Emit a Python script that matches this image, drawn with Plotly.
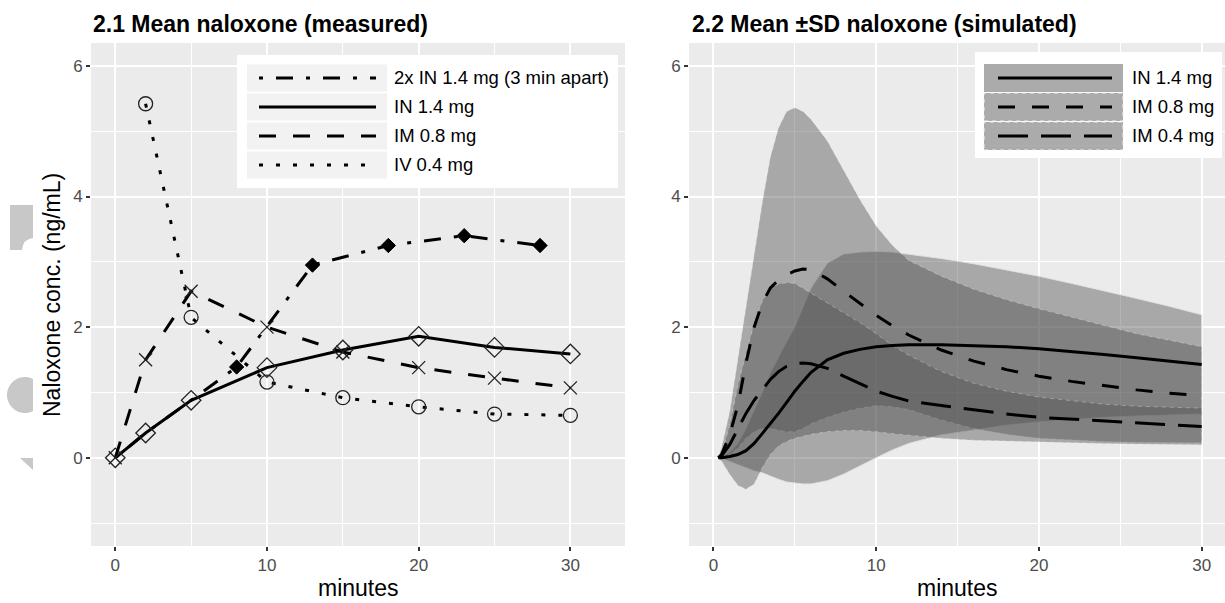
import math
import plotly.graph_objects as go

# ---------------- data: measured (left panel) ----------------
t_2xin = [0, 2, 5, 8, 13, 18, 23, 28]
c_2xin = [0, 0.38, 0.88, 1.39, 2.95, 3.25, 3.40, 3.25]
m_2xin = [0, 0, 0, 11, 11, 11, 11, 11]          # filled markers only after 2nd dose

t_in = [0, 2, 5, 10, 15, 20, 25, 30]
c_in = [0, 0.38, 0.88, 1.38, 1.65, 1.86, 1.69, 1.59]

t_im = [0, 2, 5, 10, 15, 20, 25, 30]
c_im = [0, 1.50, 2.55, 2.00, 1.62, 1.38, 1.22, 1.07]

t_iv = [2, 5, 10, 15, 20, 25, 30]
c_iv = [5.42, 2.15, 1.16, 0.92, 0.78, 0.67, 0.65]

left_labels = ["2x IN 1.4 mg (3 min apart)", "IN 1.4 mg", "IM 0.8 mg", "IV 0.4 mg"]

# ---------------- data: simulated (right panel) ----------------
t_sim = [0.3, 0.5, 1, 1.5, 2, 2.5, 3, 3.5, 4, 4.5, 5, 5.5, 6, 7, 8, 9, 10, 11, 12,
         14, 16, 18, 20, 22, 24, 26, 28, 30]

in_mean = [0, 0, 0.02, 0.05, 0.11, 0.22, 0.37, 0.52, 0.68, 0.85, 1.02, 1.17, 1.31, 1.50,
           1.60, 1.66, 1.70, 1.72, 1.73, 1.73, 1.72, 1.70, 1.67, 1.63, 1.58, 1.53, 1.48, 1.43]
in_hi = [0, 0.01, 0.08, 0.22, 0.45, 0.72, 1.00, 1.30, 1.55, 1.78, 2.00, 2.30, 2.60, 2.98,
         3.12, 3.15, 3.16, 3.15, 3.12, 3.05, 2.97, 2.88, 2.78, 2.67, 2.56, 2.44, 2.32, 2.19]
in_lo = [0, -0.01, -0.05, -0.10, -0.15, -0.20, -0.23, -0.28, -0.33, -0.37, -0.39, -0.40,
         -0.40, -0.35, -0.25, -0.12, 0.0, 0.12, 0.22, 0.35, 0.43, 0.50, 0.55, 0.59, 0.62,
         0.64, 0.66, 0.67]

im8_mean = [0, 0.05, 0.35, 0.80, 1.45, 2.00, 2.37, 2.60, 2.72, 2.80, 2.86, 2.89, 2.88, 2.74,
            2.55, 2.37, 2.18, 2.02, 1.88, 1.65, 1.48, 1.35, 1.25, 1.17, 1.10, 1.04, 0.99, 0.95]
im8_hi = [0, 0.15, 0.70, 1.50, 2.30, 3.10, 3.90, 4.60, 5.05, 5.30, 5.36, 5.30, 5.18, 4.85,
          4.40, 3.95, 3.55, 3.25, 3.02, 2.78, 2.58, 2.42, 2.28, 2.15, 2.02, 1.90, 1.80, 1.70]
im8_lo = [0, 0, 0.05, 0.15, 0.30, 0.40, 0.45, 0.45, 0.42, 0.40, 0.40, 0.45, 0.52, 0.62,
          0.70, 0.76, 0.80, 0.78, 0.74, 0.58, 0.45, 0.36, 0.30, 0.27, 0.25, 0.24, 0.23, 0.23]

im4_mean = [0, 0.03, 0.20, 0.45, 0.68, 0.88, 1.04, 1.20, 1.32, 1.40, 1.44, 1.45, 1.44, 1.37,
            1.25, 1.13, 1.02, 0.94, 0.87, 0.80, 0.73, 0.67, 0.62, 0.59, 0.56, 0.53, 0.50, 0.48]
im4_hi = [0, 0.05, 0.50, 1.10, 1.60, 2.05, 2.40, 2.60, 2.66, 2.68, 2.67, 2.60, 2.52, 2.37,
          2.22, 2.07, 1.90, 1.72, 1.57, 1.32, 1.14, 1.02, 0.93, 0.87, 0.82, 0.79, 0.77, 0.76]
im4_lo = [0, -0.05, -0.25, -0.42, -0.48, -0.40, -0.15, 0.05, 0.18, 0.25, 0.30, 0.33, 0.36,
          0.40, 0.42, 0.42, 0.40, 0.37, 0.34, 0.30, 0.27, 0.25, 0.24, 0.23, 0.22, 0.21,
          0.20, 0.20]

right_labels = ["IN 1.4 mg", "IM 0.8 mg", "IM 0.4 mg"]

# ---------------- styling ----------------
W, H = 1225, 603
FONT = "Liberation Sans, Arial, Helvetica, sans-serif"
DOT = "4px,13px"
DASH = "17px,17px"
DOTDASH = "4px,13px,17px,13px"
LONGDASH = "30px,13px"
BAND_FILL = "rgba(77,77,77,0.42)"


def px(x):
    return x / W


def py(y):
    return 1 - y / H


fig = go.Figure()

# left panel
fig.add_trace(go.Scatter(x=t_2xin, y=c_2xin, mode="lines", xaxis="x", yaxis="y",
                         line=dict(color="black", width=3, dash=DOTDASH),
                         showlegend=False))
fig.add_trace(go.Scatter(x=t_2xin, y=c_2xin, mode="markers", xaxis="x", yaxis="y",
                         marker=dict(symbol="diamond", size=m_2xin, color="#000000",
                                     opacity=1, line=dict(color="#000000", width=1)),
                         showlegend=False))
fig.add_trace(go.Scatter(x=t_in, y=c_in, mode="lines+markers", xaxis="x", yaxis="y",
                         line=dict(color="black", width=3),
                         marker=dict(symbol="diamond-open", size=15, color="#222",
                                     line=dict(width=1.3)),
                         showlegend=False))
fig.add_trace(go.Scatter(x=t_im, y=c_im, mode="lines+markers", xaxis="x", yaxis="y",
                         line=dict(color="black", width=3, dash=DASH),
                         marker=dict(symbol="x-thin-open", size=13, color="#222",
                                     line=dict(width=1.3)),
                         showlegend=False))
fig.add_trace(go.Scatter(x=t_iv, y=c_iv, mode="lines+markers", xaxis="x", yaxis="y",
                         line=dict(color="black", width=3, dash=DOT),
                         marker=dict(symbol="circle-open", size=14, color="#222",
                                     line=dict(width=1.3)),
                         showlegend=False))

# right panel: ribbons (mean +/- SD) then mean lines
sim = [(in_mean, in_hi, in_lo, "solid", "rgba(225,225,225,0.9)", "solid"),
       (im8_mean, im8_hi, im8_lo, DASH, "rgba(235,235,235,0.35)", "4px,4px"),
       (im4_mean, im4_hi, im4_lo, LONGDASH, "rgba(235,235,235,0.35)", "4px,4px")]
for mean, hi, lo, ldash, ecol, edash in sim:
    fig.add_trace(go.Scatter(x=t_sim + t_sim[::-1], y=hi + lo[::-1], xaxis="x2", yaxis="y2",
                             mode="lines", fill="toself", fillcolor=BAND_FILL,
                             line=dict(color=ecol, width=1, dash=edash),
                             hoverinfo="skip", showlegend=False))
for mean, hi, lo, ldash, ecol, edash in sim:
    fig.add_trace(go.Scatter(x=t_sim, y=mean, xaxis="x2", yaxis="y2", mode="lines",
                             line=dict(color="black", width=3, dash=ldash),
                             showlegend=False))

# axes
axis_common = dict(showgrid=True, gridcolor="white", gridwidth=2, zeroline=False,
                   showline=False, ticks="outside", ticklen=4, tickwidth=1.5,
                   tickcolor="#333333", tickfont=dict(family=FONT, size=17, color="#4D4D4D"),
                   fixedrange=True)
ydom = [py(546), py(43)]
fig.update_layout(
    width=W, height=H, margin=dict(l=0, r=0, t=0, b=0), autosize=False,
    paper_bgcolor="white", plot_bgcolor="#EBEBEB",
    font=dict(family=FONT, color="black"),
    xaxis=dict(domain=[px(91), px(625)], range=[-1.6, 33.6], dtick=10, tick0=0,
               minor=dict(dtick=5, tick0=0, showgrid=True, gridcolor="white", gridwidth=1),
               anchor="y", **axis_common),
    yaxis=dict(domain=ydom, range=[-1.35, 6.35], dtick=2, tick0=0,
               minor=dict(dtick=1, tick0=0, showgrid=True, gridcolor="white", gridwidth=1),
               anchor="x", **axis_common),
    xaxis2=dict(domain=[px(689), 1.0], range=[-1.5, 31.43], dtick=10, tick0=0,
                minor=dict(dtick=5, tick0=0, showgrid=True, gridcolor="white", gridwidth=1),
                anchor="y2", **axis_common),
    yaxis2=dict(domain=ydom, range=[-1.35, 6.35], dtick=2, tick0=0,
                minor=dict(dtick=1, tick0=0, showgrid=True, gridcolor="white", gridwidth=1),
                anchor="x2", **axis_common),
)

ann = []
shapes = []
# titles
ann.append(dict(text="<b>2.1 Mean naloxone (measured)</b>", x=px(91), y=py(24), xref="paper",
                yref="paper", xanchor="left", yanchor="middle", showarrow=False,
                font=dict(size=23, family=FONT, color="black")))
ann.append(dict(text="<b>2.2 Mean ±SD naloxone (simulated)</b>", x=px(690), y=py(24),
                xref="paper", yref="paper", xanchor="left", yanchor="middle", showarrow=False,
                font=dict(size=23, family=FONT, color="black")))
# axis titles
ann.append(dict(text="Naloxone conc. (ng/mL)", x=px(52), y=py(295), xref="paper", yref="paper",
                xanchor="center", yanchor="middle", textangle=-90, showarrow=False,
                font=dict(size=23, family=FONT, color="black")))
for cx in (358, 957):
    ann.append(dict(text="minutes", x=px(cx), y=py(588), xref="paper", yref="paper",
                    xanchor="center", yanchor="middle", showarrow=False,
                    font=dict(size=23, family=FONT, color="black")))

# left legend (manual)
shapes.append(dict(type="rect", xref="paper", yref="paper", x0=px(237), x1=px(618),
                   y0=py(188), y1=py(55), fillcolor="white", line=dict(width=0), layer="above"))
rows_l = [78, 107, 136, 165]
dashes_l = [DOTDASH, "solid", DASH, DOT]
for yc, d, lab in zip(rows_l, dashes_l, left_labels):
    shapes.append(dict(type="rect", xref="paper", yref="paper", x0=px(247), x1=px(387),
                       y0=py(yc + 13.5), y1=py(yc - 13.5), fillcolor="#F2F2F2",
                       line=dict(width=0), layer="above"))
    shapes.append(dict(type="line", xref="paper", yref="paper", x0=px(259), x1=px(376),
                       y0=py(yc), y1=py(yc), line=dict(color="black", width=3, dash=d),
                       layer="above"))
    ann.append(dict(text=lab, x=px(392), y=py(yc), xref="paper", yref="paper",
                    xanchor="left", yanchor="middle", showarrow=False,
                    font=dict(size=18.5, family=FONT, color="black")))

# right legend (manual)
shapes.append(dict(type="rect", xref="paper", yref="paper", x0=px(975), x1=px(1222),
                   y0=py(158), y1=py(52), fillcolor="white", line=dict(width=0), layer="above"))
rows_r = [78, 107, 136]
dashes_r = ["solid", DASH, LONGDASH]
for i, (yc, d, lab) in enumerate(zip(rows_r, dashes_r, right_labels)):
    shapes.append(dict(type="rect", xref="paper", yref="paper", x0=px(984), x1=px(1123),
                       y0=py(yc + 14), y1=py(yc - 14), fillcolor="#ABABAB",
                       line=dict(width=1 if i else 0, color="#F0F0F0", dash="4px,4px"),
                       layer="above"))
    shapes.append(dict(type="line", xref="paper", yref="paper", x0=px(998), x1=px(1112),
                       y0=py(yc), y1=py(yc), line=dict(color="black", width=3, dash=d),
                       layer="above"))
    ann.append(dict(text=lab, x=px(1130), y=py(yc), xref="paper", yref="paper",
                    xanchor="left", yanchor="middle", showarrow=False,
                    font=dict(size=18.5, family=FONT, color="black")))

# stray grey fragments at the left edge of the picture
ART = "#C8C8C8"
shapes.append(dict(type="path", xref="paper", yref="paper", fillcolor=ART, line=dict(width=0),
                   path=f"M {px(10)},{py(205)} L {px(33)},{py(205)} L {px(33)},{py(238)} "
                        f"Q {px(23)},{py(239)} {px(22)},{py(250)} L {px(10)},{py(250)} Z"))
circ = []
start = math.atan2(-16.1, 8)
end = math.atan2(16.1, 8)
span = 2 * math.pi - (end - start)
for k in range(41):
    ang = end + k * span / 40
    circ.append((25 + 18 * math.cos(ang), 395 + 18 * math.sin(ang)))
path = "M " + " L ".join(f"{px(x)},{py(y)}" for x, y in circ) + " Z"
shapes.append(dict(type="path", xref="paper", yref="paper", fillcolor=ART, line=dict(width=0),
                   path=path))
shapes.append(dict(type="path", xref="paper", yref="paper", fillcolor=ART, line=dict(width=0),
                   path=f"M {px(20)},{py(458)} L {px(33)},{py(458)} L {px(33)},{py(470)} Z"))

fig.update_layout(annotations=ann, shapes=shapes)

fig.write_html("out.html", config={"displayModeBar": False},
               post_script="document.body.style.margin='0';document.body.style.overflow='hidden';")
